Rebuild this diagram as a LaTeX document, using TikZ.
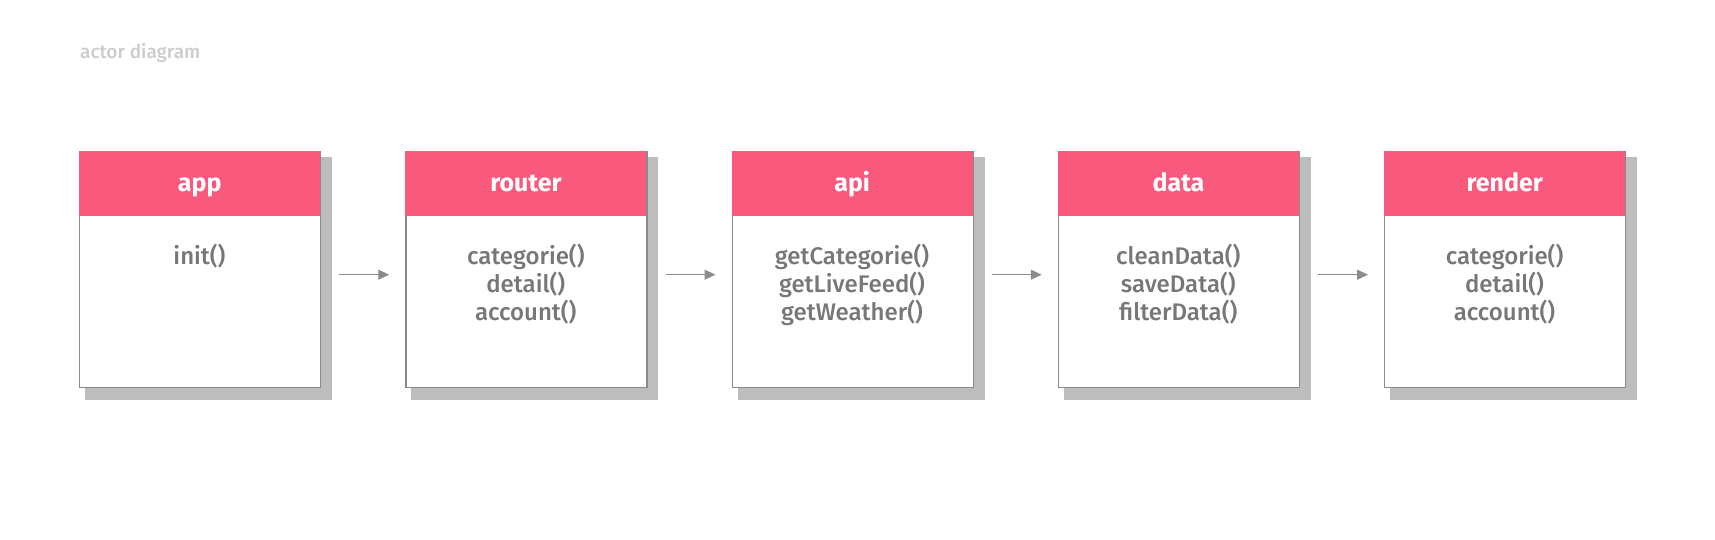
\documentclass[tikz,border=0pt]{standalone}
\usepackage{fontspec}
\setmainfont{Fira Sans}
\newfontfamily\medfont{Fira Sans Medium}
\usetikzlibrary{arrows.meta}
\definecolor{pinkhead}{HTML}{F9597C}
\definecolor{shadowgray}{HTML}{BDBDBD}
\definecolor{bordergray}{HTML}{8A8A8A}
\definecolor{textgray}{HTML}{777777}
\definecolor{titlegray}{HTML}{CCCCCC}
\definecolor{arrowgray}{HTML}{8C8C8C}
\tikzset{
  actorbox/.style={draw=bordergray, line width=1.4pt, fill=white, rectangle,
    minimum width=241pt, minimum height=236pt, anchor=north west, inner sep=0pt},
  headbox/.style={fill=pinkhead, rectangle, minimum width=241pt, minimum height=65pt,
    anchor=north west, inner sep=0pt, text=white, text height=18pt, text depth=2pt,
    font=\bfseries\fontsize{25}{28}\selectfont},
  methods/.style={anchor=north, align=center, inner sep=0pt, text=textgray,
    font=\medfont\fontsize{24}{28}\selectfont},
  flow/.style={draw=arrowgray, line width=1.3pt, -{Triangle[length=11pt,width=10pt]}},
}
\begin{document}
\begin{tikzpicture}[x=1pt,y=-1pt]
\useasboundingbox (0,0) rectangle (1715,539);
\node[anchor=west, inner sep=0pt, text=titlegray, font=\medfont\fontsize{19}{22}\selectfont] (title) at (80,53) {actor diagram};
\foreach \i/\name/\meth in {
  1/app/{init()},
  2/router/{categorie()\\detail()\\account()},
  3/api/{getCategorie()\\getLiveFeed()\\getWeather()},
  4/data/{cleanData()\\saveData()\\filterData()},
  5/render/{categorie()\\detail()\\account()}} {
  \pgfmathsetmacro{\L}{79+326.25*(\i-1)}
  \fill[shadowgray] (\L+6,157) rectangle (\L+253,400);
  \node[actorbox] (b\i) at (\L,151) {};
  \node[headbox] (h\i) at (\L,151) {\name};
  \node[methods] (m\i) at (\L+120.5,244) {\meth};
}
\foreach \a/\b in {1/2,2/3,3/4,4/5} {
  \draw[flow] ([xshift=18pt,yshift=-5pt]b\a.east) -- ([xshift=-16pt,yshift=-5pt]b\b.west);
}
\end{tikzpicture}
\end{document}
